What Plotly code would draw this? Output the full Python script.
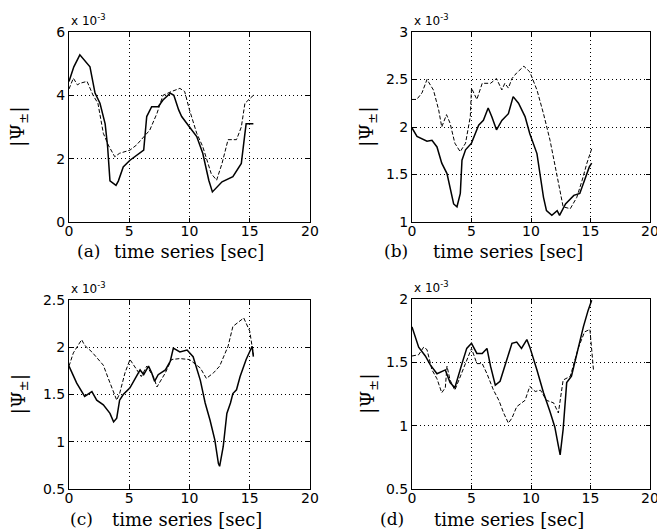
import plotly.graph_objects as go

# ---------------- data ----------------
a_solid_t = [0, 0.4, 0.9, 1.3, 1.74, 2.16, 2.57, 3.0, 3.2, 3.4, 3.9, 4.1, 4.5, 5.06, 5.6, 6.2, 6.45, 6.86, 7.4, 7.8, 8.4, 8.7, 9.1, 9.35, 10.0, 10.6, 11.1, 11.6, 11.9, 12.25, 12.7, 13.6, 14.3, 14.6, 14.7, 15.3]
a_solid_v = [4.44, 4.9, 5.28, 5.1, 4.9, 4.07, 3.75, 3.1, 2.4, 1.3, 1.16, 1.3, 1.74, 1.95, 2.1, 2.27, 3.33, 3.64, 3.64, 3.85, 4.07, 4.0, 3.54, 3.33, 3.0, 2.7, 2.17, 1.32, 0.95, 1.1, 1.27, 1.43, 1.85, 2.8, 3.1, 3.1]
a_dash_t = [0, 0.36, 0.7, 0.9, 1.5, 2.0, 2.4, 2.85, 3.26, 3.8, 4.2, 5.06, 5.6, 6.3, 6.7, 7.3, 7.8, 8.5, 9.2, 9.6, 10.0, 10.6, 11.1, 11.8, 12.25, 12.7, 13.2, 13.9, 14.3, 14.6, 15.3]
a_dash_v = [4.2, 4.54, 4.33, 4.38, 4.44, 4.0, 3.75, 2.8, 2.43, 2.06, 2.17, 2.27, 2.43, 2.75, 2.9, 3.43, 4.0, 4.12, 4.22, 4.12, 3.54, 2.8, 2.38, 1.53, 1.32, 1.85, 2.6, 2.6, 3.0, 3.75, 4.0]

b_solid_t = [0, 0.42, 1.26, 1.68, 2.1, 2.5, 2.94, 3.2, 3.5, 3.78, 4.06, 4.2, 4.5, 5.0, 5.6, 6.0, 6.4, 6.7, 7.1, 7.55, 8.1, 8.5, 8.95, 9.5, 9.9, 10.5, 11.05, 11.3, 11.75, 12.2, 12.4, 12.9, 13.6, 14.1, 14.5, 14.9, 15.1]
b_solid_v = [1.99, 1.90, 1.85, 1.86, 1.79, 1.62, 1.51, 1.37, 1.19, 1.16, 1.30, 1.65, 1.76, 1.83, 2.02, 2.07, 2.20, 2.11, 1.97, 2.07, 2.14, 2.32, 2.25, 2.11, 1.93, 1.72, 1.26, 1.12, 1.07, 1.12, 1.07, 1.19, 1.28, 1.30, 1.44, 1.58, 1.62]
b_dash_t = [0, 0.4, 0.84, 1.26, 1.8, 2.24, 2.5, 2.9, 3.2, 3.6, 4.05, 4.5, 4.9, 5.0, 5.45, 5.9, 6.6, 7.1, 7.55, 7.8, 8.1, 8.4, 8.8, 9.4, 9.9, 10.5, 11.05, 11.6, 12.2, 12.7, 13.3, 13.85, 14.3, 14.7, 15.1]
b_dash_v = [2.29, 2.29, 2.36, 2.50, 2.39, 2.18, 2.00, 2.13, 2.04, 1.83, 1.74, 1.83, 2.11, 2.41, 2.29, 2.46, 2.46, 2.51, 2.39, 2.46, 2.41, 2.51, 2.57, 2.64, 2.58, 2.39, 2.14, 1.86, 1.48, 1.16, 1.14, 1.26, 1.44, 1.62, 1.77]

c_solid_t = [0, 0.64, 1.3, 1.9, 2.3, 2.85, 3.4, 3.7, 3.96, 4.2, 4.5, 5.06, 5.5, 5.9, 6.2, 6.6, 6.86, 7.1, 7.4, 8.0, 8.4, 8.66, 9.2, 9.8, 10.3, 10.9, 11.3, 11.7, 12.1, 12.4, 12.5, 12.8, 13.1, 13.4, 13.6, 13.9, 14.2, 14.7, 15.2, 15.3]
c_solid_v = [1.80, 1.62, 1.48, 1.53, 1.44, 1.39, 1.30, 1.21, 1.25, 1.44, 1.50, 1.57, 1.67, 1.76, 1.71, 1.80, 1.73, 1.64, 1.71, 1.76, 1.85, 1.99, 1.95, 1.97, 1.90, 1.65, 1.41, 1.23, 1.02, 0.77, 0.74, 0.95, 1.30, 1.41, 1.51, 1.55, 1.69, 1.87, 2.01, 1.90]
c_dash_t = [0, 0.36, 1.05, 1.3, 1.9, 2.6, 2.85, 3.26, 3.7, 3.96, 4.2, 4.65, 5.06, 5.5, 6.0, 6.45, 7.0, 7.3, 8.0, 8.5, 9.2, 10.0, 10.9, 11.4, 12.0, 12.5, 13.2, 13.6, 14.5, 15.0, 15.3]
c_dash_v = [1.80, 1.94, 2.08, 2.02, 1.95, 1.85, 1.81, 1.67, 1.53, 1.44, 1.51, 1.73, 1.87, 1.78, 1.69, 1.80, 1.69, 1.58, 1.73, 1.87, 1.88, 1.87, 1.78, 1.67, 1.73, 1.80, 2.01, 2.22, 2.31, 2.17, 1.92]

d_solid_t = [0, 0.56, 1.12, 1.54, 2.1, 2.8, 3.2, 3.6, 4.2, 4.6, 5.0, 5.45, 5.9, 6.3, 6.6, 7.0, 7.4, 8.0, 8.4, 8.8, 9.2, 9.65, 9.9, 10.5, 11.05, 11.6, 12.0, 12.3, 12.45, 12.7, 13.0, 13.4, 13.85, 14.4, 14.8, 15.1]
d_solid_v = [1.78, 1.62, 1.55, 1.48, 1.41, 1.44, 1.34, 1.30, 1.49, 1.61, 1.65, 1.57, 1.57, 1.61, 1.47, 1.32, 1.35, 1.52, 1.65, 1.66, 1.61, 1.68, 1.62, 1.44, 1.26, 1.11, 0.99, 0.84, 0.77, 0.97, 1.34, 1.39, 1.57, 1.78, 1.91, 1.99]
d_dash_t = [0, 0.56, 0.98, 1.26, 1.68, 2.1, 2.5, 2.8, 2.94, 3.2, 3.6, 4.06, 4.5, 5.0, 5.45, 5.9, 6.3, 6.85, 7.3, 7.7, 8.1, 8.4, 8.8, 9.5, 9.9, 10.35, 10.8, 11.3, 11.9, 12.3, 12.7, 13.3, 14.0, 14.5, 14.95, 15.25]
d_dash_v = [1.55, 1.56, 1.62, 1.60, 1.44, 1.37, 1.26, 1.30, 1.47, 1.36, 1.28, 1.39, 1.49, 1.61, 1.49, 1.49, 1.41, 1.28, 1.20, 1.10, 1.02, 1.06, 1.15, 1.20, 1.31, 1.27, 1.28, 1.20, 1.18, 1.10, 1.36, 1.39, 1.62, 1.74, 1.76, 1.44]

panels = [
    dict(tag="(a)", st=a_solid_t, sv=a_solid_v, dt=a_dash_t, dv=a_dash_v, yr=[0, 6], dy=2),
    dict(tag="(b)", st=b_solid_t, sv=b_solid_v, dt=b_dash_t, dv=b_dash_v, yr=[1, 3], dy=0.5),
    dict(tag="(c)", st=c_solid_t, sv=c_solid_v, dt=c_dash_t, dv=c_dash_v, yr=[0.5, 2.5], dy=0.5),
    dict(tag="(d)", st=d_solid_t, sv=d_solid_v, dt=d_dash_t, dv=d_dash_v, yr=[0.5, 2], dy=0.5),
]
x_range = [0, 20]
x_label = "time series [sec]"
y_label = "|Ψ<sub>±</sub>|"
exp_label = "x 10<sup>-3</sup>"

# ---------------- layout geometry (pixels) ----------------
W, H = 657, 529
boxes = [(69, 310, 32, 222), (412, 650, 32, 222), (69, 310, 300, 489), (412, 650, 299, 489)]
ylab_x = [19, 368, 19, 368]
xlab_y = [251, 251, 519, 519]
tag_x = [88, 396, 81, 392]
txt_x = [189, 508, 187, 509]

fig = go.Figure()
layout = dict(width=W, height=H, margin=dict(l=0, r=0, t=0, b=0, autoexpand=False),
              paper_bgcolor="white", plot_bgcolor="white", showlegend=False)
ann = []
tickfont = dict(family="DejaVu Sans, Arial, sans-serif", size=14, color="black")
serif = "DejaVu Serif, Liberation Serif, serif"
gridstyle = dict(showgrid=True, gridcolor="black", griddash="1px,3px", gridwidth=1)

for i, p in enumerate(panels):
    n = "" if i == 0 else str(i + 1)
    xa, ya = "x" + n, "y" + n
    x0, x1, y0, y1 = boxes[i]
    fig.add_trace(go.Scatter(x=p["dt"], y=p["dv"], mode="lines", xaxis=xa, yaxis=ya,
                             line=dict(color="black", width=1, dash="4px,2px")))
    fig.add_trace(go.Scatter(x=p["st"], y=p["sv"], mode="lines", xaxis=xa, yaxis=ya,
                             line=dict(color="black", width=1.5)))
    layout["xaxis" + n] = dict(domain=[x0 / W, x1 / W], anchor=ya, range=x_range, dtick=5,
                               showline=True, mirror="ticks", linecolor="black", linewidth=1,
                               ticks="inside", ticklen=4, tickcolor="black", automargin=False,
                               ticklabeloverflow="allow", ticklabelstandoff=-4,
                               zeroline=False, tickfont=tickfont, fixedrange=True, **gridstyle)
    layout["yaxis" + n] = dict(domain=[1 - y1 / H, 1 - y0 / H], anchor=xa, range=p["yr"], dtick=p["dy"],
                               showline=True, mirror="ticks", linecolor="black", linewidth=1,
                               ticks="inside", ticklen=4, tickcolor="black", automargin=False,
                               ticklabeloverflow="allow",
                               zeroline=False, tickfont=tickfont, fixedrange=True, **gridstyle)
    ann.append(dict(text=exp_label, x=x0 / W, y=1 - (y0 - 12) / H, xref="paper", yref="paper",
                    xanchor="left", yanchor="middle", showarrow=False,
                    font=dict(family="DejaVu Sans, Arial, sans-serif", size=12, color="black")))
    ann.append(dict(text=y_label, x=ylab_x[i] / W, y=1 - ((y0 + y1) / 2) / H, xref="paper", yref="paper",
                    textangle=-90, xanchor="center", yanchor="middle", showarrow=False,
                    font=dict(family=serif, size=19, color="black")))
    ann.append(dict(text=p["tag"], x=tag_x[i] / W, y=1 - xlab_y[i] / H, xref="paper", yref="paper",
                    xanchor="center", yanchor="middle", showarrow=False,
                    font=dict(family=serif, size=17, color="black")))
    ann.append(dict(text=x_label, x=txt_x[i] / W, y=1 - xlab_y[i] / H, xref="paper", yref="paper",
                    xanchor="center", yanchor="middle", showarrow=False,
                    font=dict(family=serif, size=18, color="black")))

layout["annotations"] = ann
fig.update_layout(**layout)
fig.write_html("out.html", config={"displayModeBar": False},
               post_script="document.body.style.margin='0';document.body.style.overflow='hidden';")
